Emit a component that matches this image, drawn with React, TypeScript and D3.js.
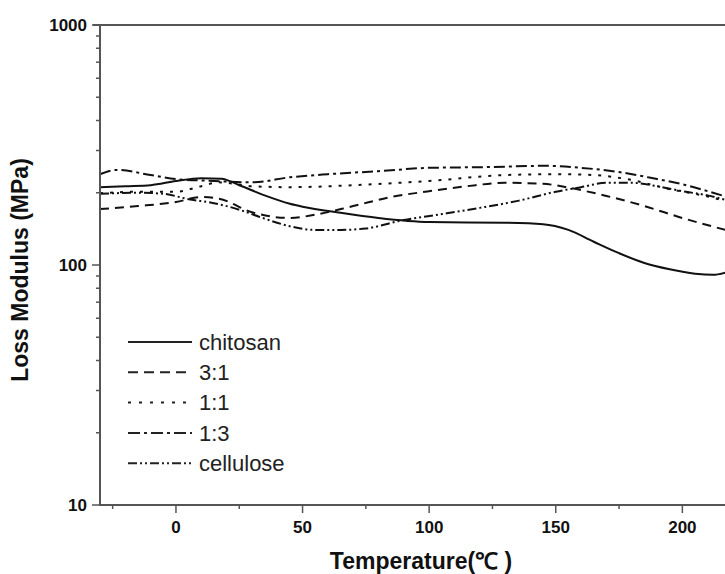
import React, { useEffect, useRef } from "react";
import * as d3 from "d3";

// temperature (°C) / loss modulus (MPa)
const chitosanT = [-30, -20, -10, 0, 10, 18, 25, 35, 45, 50, 65, 80, 100, 130, 145, 155, 165, 175, 185, 195, 205, 212, 217];
const chitosanV = [211, 213, 215, 224, 230, 229, 215, 195, 180, 175, 165, 157, 151, 150, 148, 140, 125, 112, 102, 96, 92, 91, 93];

const r31T = [-30, -15, 0, 10, 17, 30, 45, 55, 70, 85, 100, 115, 130, 145, 155, 170, 185, 200, 217];
const r31V = [171, 176, 183, 192, 189, 166, 157, 162, 176, 192, 203, 213, 220, 218, 210, 194, 176, 157, 140];

const r11T = [-30, -15, 0, 10, 17, 30, 45, 70, 100, 130, 150, 165, 180, 195, 210, 217];
const r11V = [199, 202, 202, 213, 221, 213, 211, 215, 224, 237, 239, 237, 226, 207, 193, 185];

const r13T = [-30, -23, -10, 0, 15, 30, 45, 60, 80, 100, 125, 145, 160, 175, 190, 200, 210, 217];
const r13V = [239, 249, 237, 228, 224, 221, 232, 239, 246, 254, 256, 259, 254, 244, 228, 217, 203, 193];

const celluloseT = [-30, -15, -5, 5, 15, 25, 35, 45, 55, 65, 75, 90, 105, 120, 135, 150, 160, 170, 180, 190, 200, 210, 217];
const celluloseV = [198, 200, 198, 188, 181, 170, 156, 145, 140, 140, 142, 154, 163, 173, 185, 202, 211, 220, 220, 213, 203, 195, 187];

const seriesNames = ["chitosan", "3:1", "1:1", "1:3", "cellulose"];
const xTicks = [0, 50, 100, 150, 200];
const xMinorTicks = [-25, 25, 75, 125, 175];
const yTicks = [10, 100, 1000];

const App = () => {
  const svgRef = useRef<SVGSVGElement>(null);

  useEffect(() => {
    const svg = d3.select(svgRef.current);
    svg.selectAll("*").remove();

    const width = 725;
    const height = 574;
    const left = 100, top = 25, bottom = 505;
    const axisColor = "#555";
    const lineColor = "#111";

    svg.attr("width", width).attr("height", height);

    const x = d3.scaleLinear().domain([-30, 217]).range([left, left + 247 * 2.532]);
    const y = d3.scaleLog().domain([10, 1000]).range([bottom, top]);

    const series = [
      { name: seriesNames[0], t: chitosanT, v: chitosanV, dash: null, legendDash: null },
      { name: seriesNames[1], t: r31T, v: r31V, dash: "9,6", legendDash: "10,6" },
      { name: seriesNames[2], t: r11T, v: r11V, dash: "3,7", legendDash: "3,8" },
      { name: seriesNames[3], t: r13T, v: r13V, dash: "11,4,3,4", legendDash: "12,4,3,4" },
      { name: seriesNames[4], t: celluloseT, v: celluloseV, dash: "9,3,2,3,2,3", legendDash: "9,3,2,3,2,3" },
    ];

    svg.append("clipPath").attr("id", "plot-clip")
      .append("rect")
      .attr("x", left).attr("y", top)
      .attr("width", width - left).attr("height", bottom - top);

    const line = d3.line<[number, number]>()
      .x(d => x(d[0]))
      .y(d => y(d[1]))
      .curve(d3.curveMonotoneX);

    const plot = svg.append("g").attr("clip-path", "url(#plot-clip)");
    series.forEach(s => {
      const pts: [number, number][] = s.t.map((t, i) => [t, s.v[i]]);
      plot.append("path")
        .datum(pts)
        .attr("fill", "none")
        .attr("stroke", lineColor)
        .attr("stroke-width", 2)
        .attr("stroke-dasharray", s.dash)
        .attr("d", line);
    });

    // axes frame
    svg.append("line")
      .attr("x1", left).attr("x2", width)
      .attr("y1", bottom).attr("y2", bottom)
      .attr("stroke", axisColor).attr("stroke-width", 2);
    svg.append("line")
      .attr("x1", left - 7).attr("x2", width)
      .attr("y1", top).attr("y2", top)
      .attr("stroke", axisColor).attr("stroke-width", 2);
    svg.append("line")
      .attr("x1", left).attr("x2", left)
      .attr("y1", top).attr("y2", bottom + 1)
      .attr("stroke", axisColor).attr("stroke-width", 2);

    // x ticks
    svg.selectAll(".xmaj").data(xTicks).enter().append("line")
      .attr("x1", d => x(d)).attr("x2", d => x(d))
      .attr("y1", bottom).attr("y2", bottom + 8)
      .attr("stroke", axisColor).attr("stroke-width", 1.5);
    svg.selectAll(".xmin").data(xMinorTicks).enter().append("line")
      .attr("x1", d => x(d)).attr("x2", d => x(d))
      .attr("y1", bottom).attr("y2", bottom + 4)
      .attr("stroke", axisColor).attr("stroke-width", 1.5);
    svg.selectAll(".xlab").data(xTicks).enter().append("text")
      .attr("x", d => x(d)).attr("y", 533)
      .attr("text-anchor", "middle")
      .attr("font-family", "Liberation Sans, Arial, sans-serif")
      .attr("font-weight", "bold").attr("font-size", 17)
      .attr("fill", "#111")
      .text(d => d);

    // y ticks
    const yMinor: number[] = [];
    [10, 100].forEach(dec => { for (let k = 2; k <= 9; k++) yMinor.push(dec * k); });
    svg.selectAll(".ymaj").data(yTicks).enter().append("line")
      .attr("x1", left - 8).attr("x2", left)
      .attr("y1", d => y(d)).attr("y2", d => y(d))
      .attr("stroke", axisColor).attr("stroke-width", 1.5);
    svg.selectAll(".ymin").data(yMinor).enter().append("line")
      .attr("x1", left - 4).attr("x2", left)
      .attr("y1", d => y(d)).attr("y2", d => y(d))
      .attr("stroke", axisColor).attr("stroke-width", 1.5);
    svg.selectAll(".ylab").data(yTicks).enter().append("text")
      .attr("x", 87).attr("y", d => y(d))
      .attr("dy", "0.35em")
      .attr("text-anchor", "end")
      .attr("font-family", "Liberation Sans, Arial, sans-serif")
      .attr("font-weight", "bold").attr("font-size", 17)
      .attr("fill", "#111")
      .text(d => d);

    // titles
    svg.append("text")
      .attr("x", 421).attr("y", 569)
      .attr("text-anchor", "middle")
      .attr("font-family", "Liberation Sans, Arial, sans-serif")
      .attr("font-weight", "bold").attr("font-size", 23)
      .attr("fill", "#111")
      .text("Temperature(℃ )");
    svg.append("text")
      .attr("transform", "translate(28,270) rotate(-90)")
      .attr("text-anchor", "middle")
      .attr("font-family", "Liberation Sans, Arial, sans-serif")
      .attr("font-weight", "bold").attr("font-size", 23)
      .attr("fill", "#111")
      .text("Loss Modulus (MPa)");

    // legend
    const legend = svg.append("g");
    series.forEach((s, i) => {
      const ly = 342 + i * 30.3;
      legend.append("line")
        .attr("x1", 128).attr("x2", 192)
        .attr("y1", ly).attr("y2", ly)
        .attr("stroke", "#222").attr("stroke-width", 2)
        .attr("stroke-dasharray", s.legendDash);
      legend.append("text")
        .attr("x", 199).attr("y", ly)
        .attr("dy", "0.35em")
        .attr("font-family", "Liberation Sans, Arial, sans-serif")
        .attr("font-size", 22)
        .attr("fill", "#222")
        .text(s.name);
    });
  }, []);

  return (
    <div style={{ position: "fixed", left: 0, top: 0, width: 725, height: 574, overflow: "hidden", background: "#fff" }}>
      <svg ref={svgRef}></svg>
    </div>
  );
};

export default App;
